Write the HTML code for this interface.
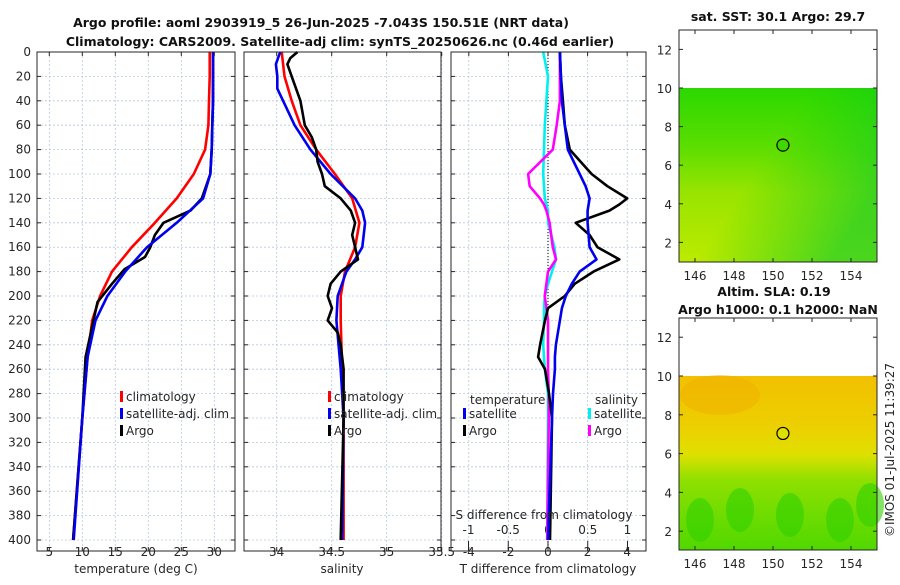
<!DOCTYPE html>
<html><head><meta charset="utf-8"><style>
body{margin:0;background:#fff}
svg{font-family:"DejaVu Sans","Liberation Sans",sans-serif;font-size:12px;fill:#262626}
</style></head><body>
<svg id="c" width="900" height="580" xmlns="http://www.w3.org/2000/svg">
<defs>
<linearGradient id="g1" x1="0" y1="0" x2="0" y2="1">
<stop offset="0" stop-color="#2bd800"/><stop offset="0.35" stop-color="#5ede00"/><stop offset="0.6" stop-color="#98e400"/><stop offset="1" stop-color="#bcea00"/></linearGradient>
<linearGradient id="g1b" x1="0" y1="0" x2="1" y2="0.6">
<stop offset="0.5" stop-color="#00cc20" stop-opacity="0"/><stop offset="1" stop-color="#00c830" stop-opacity="0.6"/></linearGradient>
<linearGradient id="g2" x1="0" y1="0" x2="0" y2="1">
<stop offset="0" stop-color="#f2c000"/><stop offset="0.3" stop-color="#ecd000"/><stop offset="0.45" stop-color="#dfe000"/><stop offset="0.6" stop-color="#8ee000"/><stop offset="1" stop-color="#50d800"/></linearGradient>
</defs>
<g id="main"></g>
</svg>
<script>
// ---- data ----
const depthTC=[0,20,40,60,80,100,120,140,160,180,200,220,250,300,400];
const tempClim=[29.3,29.3,29.2,29.1,28.6,26.9,24.3,21,17.5,14.5,12.7,11.5,10.8,10,8.6];
const depthTS=[0,20,40,60,80,100,120,140,160,180,200,220,250,300,400];
const tempSat=[29.8,29.8,29.8,29.7,29.6,29.4,28.3,24.3,19.8,16.5,13.8,12,10.8,10,8.7];
const depthTA=[0,20,40,60,80,100,120,130,140,150,160,168,178,190,205,220,250,300,400];
const tempArgo=[29.8,29.8,29.8,29.7,29.6,29.4,28.1,26.4,22.3,21,20.3,19.5,16.4,14.5,12.3,11.7,10.5,10,8.6];

const depthSC=[0,20,40,60,80,100,120,140,160,180,200,220,260,300,400];
const salClim=[34.045,34.071,34.136,34.215,34.359,34.529,34.686,34.752,34.713,34.621,34.582,34.582,34.595,34.608,34.608];
const depthSS=[0,10,20,30,40,60,80,100,120,130,140,160,170,180,200,220,260,300,400];
const salSat=[34.032,33.993,34.005,34.005,34.058,34.163,34.306,34.49,34.713,34.778,34.804,34.778,34.713,34.634,34.555,34.543,34.582,34.608,34.595];
const depthSA=[0,5,10,20,40,60,70,80,90,100,110,120,130,140,150,160,170,180,190,200,210,220,230,240,260,300,400];
const salArgo=[34.189,34.124,34.097,34.136,34.215,34.255,34.32,34.359,34.372,34.412,34.437,34.582,34.674,34.713,34.686,34.713,34.739,34.582,34.49,34.464,34.503,34.464,34.555,34.582,34.608,34.608,34.582];

const depthD=[0,20,40,60,80,100,110,120,125,130,140,150,160,170,180,190,200,210,220,240,250,260,280,300,400];
const dTsat=[0.6,0.65,0.7,0.85,1.0,1.6,1.9,2.1,2.05,2.0,2.0,2.05,2.1,2.45,1.6,1.2,0.9,0.7,0.6,0.4,0.35,0.35,0.25,0.2,0];
const dTargo=[0.6,0.65,0.75,0.85,1.1,2.2,3.0,4.0,3.6,3.1,1.4,2.1,2.5,3.6,2.3,1.35,0.85,0,-0.15,-0.4,-0.5,-0.15,0.05,0.2,0.1];
const dSsat=[-0.06,0,-0.02,-0.04,-0.05,-0.06,-0.05,-0.04,-0.02,0,0,0.04,0.08,0.1,0.05,0,-0.04,-0.05,-0.05,-0.06,-0.05,-0.04,0,0,-0.01];
const dSargo=[0.15,0.15,0.15,0.11,0.06,-0.25,-0.23,-0.1,-0.05,-0.02,0.02,0.04,0.06,0.1,0,-0.02,-0.04,-0.02,0,0,0,0,0.01,0.01,-0.01];

const depthTicks=[0,20,40,60,80,100,120,140,160,180,200,220,240,260,280,300,320,340,360,380,400];
const tTicks=[5,10,15,20,25,30];
const sTicks=[34,34.5,35,35.5];
const dtTicks=[-4,-2,0,2,4];
const dsTicks=[-1,-0.5,0,0.5,1];
const lonTicks=[146,148,150,152,154];
const latTicks=[2,4,6,8,10,12];
const argoLon=150.51, argoLat=7.04;

// ---- axes ----
const T=52,B=551;
const yD=d=>52+d*1.22;
const xT=t=>49.3+(t-5)*6.6;
const xS=s=>276.7+(s-34)*110;
const xDT=v=>548+v*19.8;
const xDS=v=>548+v*79.5;
const xLon=l=>695+(l-146)*19.5;
const yLat1=l=>88+(10-l)*19.3;
const yLat2=l=>376+(10-l)*19.4;

const NS='http://www.w3.org/2000/svg';
const G=document.getElementById('main');
function mk(tag,a,parent){const e=document.createElementNS(NS,tag);for(const k in a)e.setAttribute(k,a[k]);(parent||G).appendChild(e);return e;}
function txt(s,x,y,anchor,extra){const e=mk('text',Object.assign({x:x,y:y,'text-anchor':anchor||'middle'},extra||{}));e.textContent=s;return e;}

const panels=[[37,235,'temperature-panel'],[244,441,'salinity-panel'],[451,646,'difference-panel']];
panels.forEach(p=>{
  const r=mk('rect',{x:p[0],y:T,width:p[1]-p[0],height:B-T,fill:'#fff'});
  
  
  depthTicks.forEach(d=>{
    mk('line',{x1:p[0],x2:p[1],y1:yD(d),y2:yD(d),stroke:'#b8c8e0','stroke-width':0.8,'stroke-dasharray':'2,2'});
    mk('line',{x1:p[0],x2:p[0]+4,y1:yD(d),y2:yD(d),stroke:'#262626'});
    mk('line',{x1:p[1],x2:p[1]-4,y1:yD(d),y2:yD(d),stroke:'#262626'});
  });
});
function xgrid(ticks,f,labels,ly){
  ticks.forEach(v=>{
    const x=f(v);
    mk('line',{x1:x,x2:x,y1:T,y2:B,stroke:'#b8c8e0','stroke-width':0.8,'stroke-dasharray':'2,2'});
    mk('line',{x1:x,x2:x,y1:B,y2:B-4,stroke:'#262626'});
    mk('line',{x1:x,x2:x,y1:T,y2:T+4,stroke:'#262626'});
    if(labels){const e=txt(String(v),x,ly);}
  });
}
xgrid(tTicks,xT,true,556);
xgrid(sTicks,xS,true,556);
xgrid(dtTicks,xDT,true,556);
dsTicks.forEach(v=>{const x=xDS(v);mk('line',{x1:x,x2:x,y1:B,y2:B-10,stroke:'#262626'});txt(String(v),x,534);});
depthTicks.forEach(d=>{const e=txt(String(d),31,yD(d)+4,'end');});
mk('line',{x1:548,x2:548,y1:T,y2:B,stroke:'#000','stroke-width':1,'stroke-dasharray':'1,2'});

function line(xs,ds,fx,color,name){
  const d=xs.map((v,i)=>(i?'L':'M')+fx(v).toFixed(1)+','+yD(ds[i]).toFixed(1)).join('');
  const e=mk('path',{d:d,fill:'none',stroke:color,'stroke-width':2.6,'stroke-linejoin':'round'});
  
  
}
line(tempClim,depthTC,xT,'#ff0000','temp-climatology-line');
line(tempArgo,depthTA,xT,'#000','temp-argo-line');
line(tempSat,depthTS,xT,'#0000ee','temp-satellite-line');
line(salClim,depthSC,xS,'#ff0000','sal-climatology-line');
line(salSat,depthSS,xS,'#0000ee','sal-satellite-line');
line(salArgo,depthSA,xS,'#000','sal-argo-line');
line(dSsat,depthD,xDS,'#00f0f0','dsal-satellite-line');
line(dSargo,depthD,xDS,'#ff00ff','dsal-argo-line');
line(dTargo,depthD,xDT,'#000','dtemp-argo-line');
line(dTsat,depthD,xDT,'#0000ee','dtemp-satellite-line');

panels.forEach(p=>mk('rect',{x:p[0],y:T,width:p[1]-p[0],height:B-T,fill:'none',stroke:'#262626','stroke-width':1}));

function legend(x,y,items,name){
  const g=mk('g',{});
  
  
  items.forEach((it,i)=>{
    const yy=y+i*17;
    mk('rect',{x:x,y:yy-9,width:3,height:11,fill:it[1]},g);
    const t=mk('text',{x:x+6,y:yy+1},g);t.textContent=it[0];
  });
}
legend(120,400,[['climatology','#ff0000'],['satellite-adj. clim','#0000ee'],['Argo','#000']],'temp-legend');
legend(328,400,[['climatology','#ff0000'],['satellite-adj. clim','#0000ee'],['Argo','#000']],'sal-legend');
txt('temperature',470,404,'start');
legend(463,417,[['satellite','#0000ee'],['Argo','#000']],'dtemp-legend');
txt('salinity',595,404,'start');
legend(588,417,[['satellite','#00f0f0'],['Argo','#ff00ff']],'dsal-legend');
txt('S difference from climatology',544,519);

txt('temperature (deg C)',136,573);
txt('salinity',342,573);
txt('T difference from climatology',548,573);
txt('Argo profile: aoml 2903919_5 26-Jun-2025 -7.043S 150.51E (NRT data)',321,27,'middle',{'font-weight':'bold','font-size':'12.5px',fill:'#111'});
txt('Climatology: CARS2009. Satellite-adj clim: synTS_20250626.nc (0.46d earlier)',340,46,'middle',{'font-weight':'bold','font-size':'12.5px',fill:'#111'});

// maps
function map(y0,yl,fill,name,circFill,extra){
  const x0=679,x1=877,bot=y0+232;
  const top=yl(10);
  const r=mk('rect',{x:x0,y:top,width:x1-x0,height:bot-top,fill:fill});
  
  
  if(extra)extra(x0,top,x1,bot);
  mk('rect',{x:x0,y:y0,width:x1-x0,height:bot-y0,fill:'none',stroke:'#262626'});
  lonTicks.forEach(l=>{const x=xLon(l);mk('line',{x1:x,x2:x,y1:bot,y2:bot-4,stroke:'#262626'});mk('line',{x1:x,x2:x,y1:y0,y2:y0+4,stroke:'#262626'});txt(String(l),x,bot+18);});
  latTicks.forEach(l=>{const y=yl(l);mk('line',{x1:x0,x2:x0+4,y1:y,y2:y,stroke:'#262626'});mk('line',{x1:x1,x2:x1-4,y1:y,y2:y,stroke:'#262626'});txt(String(l),672,y+5,'end');});
  const c=mk('circle',{cx:xLon(argoLon),cy:yl(argoLat),r:6,fill:circFill,stroke:'#000','stroke-width':1.2});
  
  
}
map(30,yLat1,'url(#g1)','sst-map','#3cd800',(x0,t,x1,b)=>{mk('rect',{x:x0,y:t,width:x1-x0,height:b-t,fill:'url(#g1b)'});});
map(318,yLat2,'url(#g2)','sla-map','#e0e000',(x0,t,x1,b)=>{
  [[700,520],[740,510],[790,515],[840,520],[870,505]].forEach(p=>mk('ellipse',{cx:p[0],cy:p[1],rx:14,ry:22,fill:'#30d000',opacity:0.6}));
  mk('ellipse',{cx:720,cy:395,rx:40,ry:20,fill:'#f0b000',opacity:0.5});
});
txt('sat. SST: 30.1 Argo: 29.7',778,21,'middle',{'font-weight':'bold','font-size':'12.5px',fill:'#111'});
txt('Altim. SLA: 0.19',774,296,'middle',{'font-weight':'bold','font-size':'12.5px',fill:'#111'});
txt('Argo h1000: 0.1 h2000: NaN',778,314,'middle',{'font-weight':'bold','font-size':'12.5px',fill:'#111'});
txt('©IMOS 01-Jul-2025 11:39:27',0,0,'middle',{transform:'translate(894,450) rotate(-90)','font-size':'12px'});
</script>
</body></html>
